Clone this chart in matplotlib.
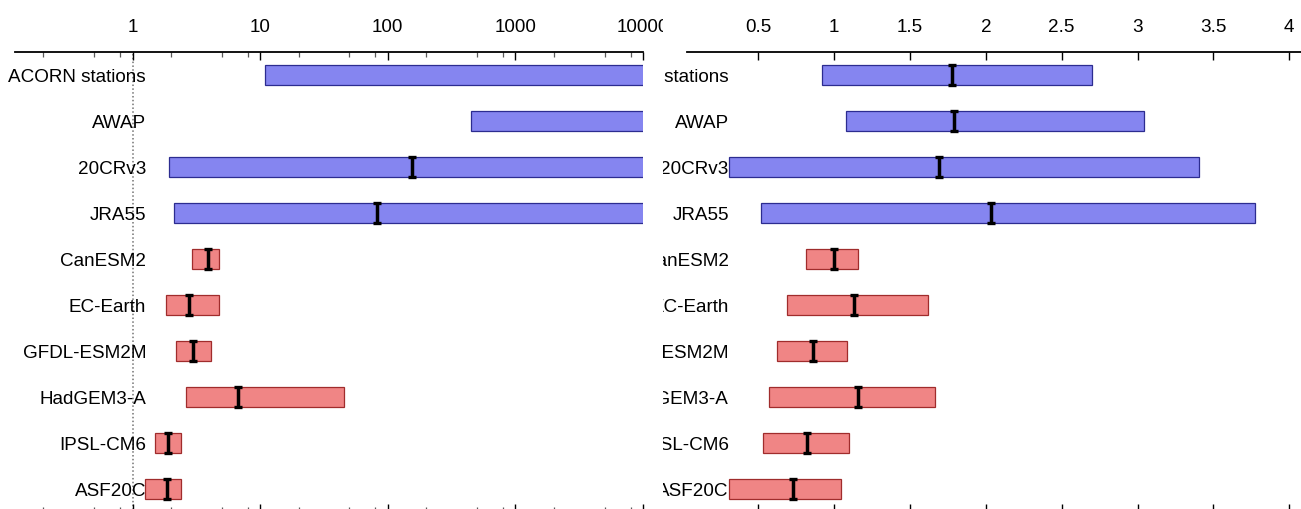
import numpy as np
import matplotlib
matplotlib.use('Agg')
import matplotlib.pyplot as plt
from matplotlib.ticker import FixedLocator, NullFormatter
from matplotlib.transforms import Bbox, TransformedBbox

plt.rcParams['font.family'] = ['Liberation Sans', 'DejaVu Sans']
plt.rcParams['font.size'] = 13.6

datasets = ['ACORN stations', 'AWAP', '20CRv3', 'JRA55', 'CanESM2', 'EC-Earth',
            'GFDL-ESM2M', 'HadGEM3-A', 'IPSL-CM6', 'ASF20C']
n_obs = 4  # first four are observations / reanalyses

# left panel: return period (log axis)
rp_low = [10.9, 450, 1.94, 2.11, 2.93, 1.82, 2.21, 2.61, 1.50, 1.26]
rp_high = [1e5, 1e5, 1e5, 1e5, 4.74, 4.78, 4.10, 45.5, 2.40, 2.40]
rp_best = [np.nan, np.nan, 154, 82.4, 3.88, 2.77, 2.96, 6.75, 1.89, 1.85]
rp_ticks = [1, 10, 100, 1000, 10000]
rp_ticklabels = ['1', '10', '100', '1000', '10000']

# right panel: probability ratio (linear axis)
pr_low = [0.919, 1.079, 0.310, 0.521, 0.815, 0.688, 0.622, 0.569, 0.531, 0.306]
pr_high = [2.697, 3.044, 3.404, 3.775, 1.154, 1.616, 1.084, 1.666, 1.095, 1.044]
pr_best = [1.780, 1.789, 1.691, 2.031, 1.000, 1.130, 0.860, 1.154, 0.818, 0.726]
pr_ticks = [0.5, 1, 1.5, 2, 2.5, 3, 3.5, 4]
pr_ticklabels = ['0.5', '1', '1.5', '2', '2.5', '3', '3.5', '4']

blue_fill, blue_edge = '#8585f0', '#2c2c90'
red_fill, red_edge = '#f08585', '#a02c2c'

W, H = 1301, 510
fig = plt.figure(figsize=(W / 100, H / 100), dpi=100)

ax_l = fig.add_axes([15 / W, -3 / H, 628 / W, 460 / H])
ax_r = fig.add_axes([687 / W, -3 / H, 617.4 / W, 460 / H])

y = np.arange(len(datasets))
fills = [blue_fill] * n_obs + [red_fill] * (len(datasets) - n_obs)
edges = [blue_edge] * n_obs + [red_edge] * (len(datasets) - n_obs)


def draw_panel(ax, low, high, best, label_x):
    low = np.array(low)
    high = np.array(high)
    ax.barh(y, high - low, left=low, height=0.44, color=fills,
            edgecolor=edges, linewidth=0.9, zorder=2)
    ax.errorbar(best, y, yerr=0.22, fmt='none', ecolor='k', elinewidth=2.5,
                capsize=2.7, capthick=2.4, zorder=3)
    ax.set_ylim(9.5, -0.5)
    ax.set_yticks(y)
    ax.set_yticklabels(datasets)
    ax.spines['left'].set_position(('data', label_x))
    for s in ['left', 'right', 'bottom']:
        ax.spines[s].set_visible(False)
    ax.spines['top'].set_linewidth(1.3)
    ax.tick_params(axis='y', length=0, pad=0)
    ax.xaxis.tick_top()
    ax.tick_params(axis='x', which='major', top=True, bottom=True, labeltop=True,
                   labelbottom=False, direction='in', length=5.8, width=1.0,
                   pad=12, colors='k')
    ax.tick_params(axis='x', which='minor', top=True, bottom=True,
                   direction='in', length=3.6, width=0.9, color='0.35')


# left panel
ax_l.set_xscale('log')
ax_l.set_xlim(0.12, 1e4)
draw_panel(ax_l, rp_low, rp_high, rp_best, 1.276)
ax_l.xaxis.set_major_locator(FixedLocator(rp_ticks))
ax_l.set_xticklabels(rp_ticklabels)
ax_l.xaxis.set_minor_locator(FixedLocator([k * 10.0 ** e for e in range(-1, 4) for k in (2, 5, 8)]))
ax_l.xaxis.set_minor_formatter(NullFormatter())
ax_l.axvline(1, color='0.45', ls=(0, (1, 1.5)), lw=1.1, zorder=1)

# right panel
ax_r.set_xlim(0.03, 4.1)
draw_panel(ax_r, pr_low, pr_high, pr_best, 0.306)
ax_r.set_xticks(pr_ticks)
ax_r.set_xticklabels(pr_ticklabels)

# both panels are cut off at the same boundary
cut = 663 / W


def clip_labels(ax, x0, x1):
    box = TransformedBbox(Bbox([[x0, -1], [x1, 2]]), fig.transFigure)
    for t in ax.get_xticklabels() + ax.get_yticklabels():
        t.set_clip_box(box)
        t.set_clip_on(True)


clip_labels(ax_l, -1, cut)
clip_labels(ax_r, cut, 2)

plt.savefig('out.png', dpi=100)
